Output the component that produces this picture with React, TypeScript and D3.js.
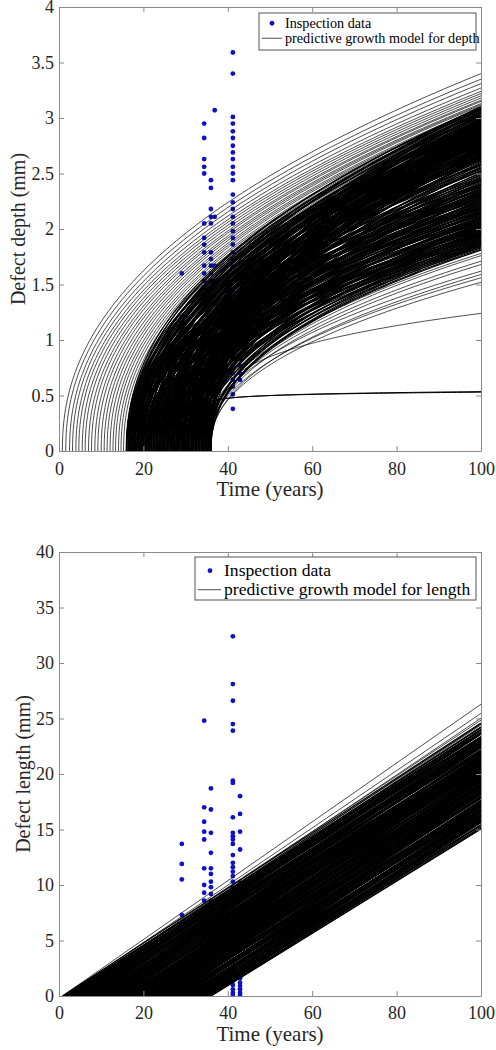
import React, { useEffect, useRef } from 'react';
import * as d3 from 'd3';

// shared axis ticks
const yearTicks = [0, 20, 40, 60, 80, 100];
const depthTicks = [0, 0.5, 1, 1.5, 2, 2.5, 3, 3.5, 4];
const lengthTicks = [0, 5, 10, 15, 20, 25, 30, 35, 40];

// inspection data, one column of readings per inspection year
const depthYears = [29.1, 34.4, 36.0, 36.9, 41.2, 42.9];
const depthReadings = [
    [1.60, 1.21, 1.15, 1.10],
    [2.95, 2.82, 2.63, 2.56, 2.50, 2.05, 1.92, 1.86, 1.79, 1.67, 1.60, 1.53, 1.47, 1.40, 1.33],
    [2.44, 2.37, 2.18, 2.11, 2.05, 1.79, 1.73, 1.67, 1.60, 1.53, 1.47, 1.40],
    [3.07, 2.11, 1.67, 1.53],
    [3.59, 3.40, 3.01, 2.95, 2.88, 2.82, 2.75, 2.69, 2.63, 2.56, 2.50, 2.44, 2.31, 2.24, 2.18, 2.11, 2.05, 1.98, 1.92, 1.86, 1.79, 1.73, 1.66, 1.60, 1.52, 1.45, 0.83, 0.77, 0.70, 0.64, 0.58, 0.51, 0.38],
    [0.83, 0.77, 0.70, 0.64],
];
const lengthYears = [29.1, 34.4, 36.0, 41.2, 42.9];
const lengthReadings = [
    [13.7, 11.9, 10.5, 7.3, 6.6, 5.9, 5.2, 4.5],
    [24.8, 17.0, 15.7, 14.8, 14.1, 11.5, 10.0, 9.3, 8.6, 7.9, 7.1, 6.2, 5.3, 4.4, 3.5, 2.6, 1.7, 0.8, 0.2],
    [18.7, 16.8, 14.7, 12.9, 11.5, 11.0, 10.3, 9.8, 9.2, 8.6, 7.9, 7.1, 6.3, 5.4, 4.5, 3.6, 2.7, 1.8, 0.9, 0.2],
    [32.4, 28.1, 26.6, 24.5, 23.9, 19.4, 19.2, 16.1, 14.7, 14.4, 14.1, 13.7, 12.7, 12.0, 11.6, 11.2, 10.8, 10.3, 9.8, 9.2, 8.6, 8.0, 7.3, 6.6, 5.9, 5.2, 4.5, 3.8, 3.1, 2.5, 1.9, 1.4, 1.0, 0.6, 0.3, 0.1],
    [18.0, 16.4, 14.8, 13.2, 10.2, 2.0, 1.6, 1.2, 0.9, 0.6, 0.3, 0.1],
];

// depth model: d(t) = end * ((t - onset) / (100 - onset)) ^ exponent
const depthExponent = 0.45;
// sparse curves (outer fan and the lower stragglers)
const depthOnset = [0.8, 1.6, 2.5, 3.2, 4.0, 4.7, 5.5, 6.2, 7.0, 7.7, 8.5, 9.2, 10.0, 10.7, 11.4, 12.1, 12.8, 13.4, 14.1, 14.7, 15.3, 15.9, 16.5, 17.0, 17.5, 18.0, 18.5, 19.0, 19.4, 19.8,
    34.2, 35.0, 34.6, 35.4, 33.8, 35.8, 34.9, 35.5];
const depthEnd = [3.40, 3.35, 3.31, 3.27, 3.24, 3.22, 3.20, 3.18, 3.16, 3.15, 3.13, 3.12, 3.11, 3.09, 3.08, 3.07, 3.05, 3.04, 3.03, 3.02, 3.00, 2.99, 2.98, 2.97, 2.96, 2.95, 2.94, 2.93, 2.92, 2.91,
    1.78, 1.76, 1.71, 1.68, 1.62, 1.59, 1.56, 1.52];
// dense band: five curves per onset year
const depthOnsetDense = [16.0, 16.4, 16.8, 17.2, 17.6, 18.0, 18.4, 18.8, 19.2, 19.6,
    20.0, 20.4, 20.8, 21.2, 21.5, 21.9, 22.3, 22.6, 23.0, 23.3, 23.7, 24.0, 24.4, 24.7, 25.0, 25.4, 25.7, 26.0, 26.4, 26.7, 27.0, 27.3, 27.7, 28.0, 28.3, 28.6, 29.0, 29.3, 29.6, 29.9, 30.3, 30.6, 30.9, 31.3, 31.6, 31.9, 32.3, 32.6, 33.0, 33.3, 33.7, 34.1, 34.5, 34.9, 35.3, 35.7, 36.0];
const depthEndHigh = [3.09, 3.05, 3.10, 3.02, 3.07, 2.98, 3.04, 3.08, 2.96, 3.01,
    3.08, 2.95, 3.02, 2.88, 3.10, 2.92, 2.99, 2.84, 3.05, 2.90, 2.97, 2.80, 3.03, 2.86, 2.94, 3.07, 2.82, 2.98, 2.89, 3.01, 2.78, 2.93, 3.06, 2.85, 2.96, 2.81, 3.00, 2.91, 2.76, 2.95, 2.87, 3.04, 2.79, 2.92, 2.83, 2.97, 2.74, 2.88, 2.99, 2.80, 2.93, 2.77, 2.86, 2.95, 2.72, 2.84, 2.90];
const depthEndUpper = [2.92, 2.86, 2.96, 2.80, 2.90, 2.75, 2.83, 2.94, 2.71, 2.88,
    2.78, 2.85, 2.69, 2.91, 2.74, 2.82, 2.66, 2.87, 2.77, 2.93, 2.70, 2.84, 2.63, 2.79, 2.89, 2.73, 2.81, 2.67, 2.90, 2.76, 2.84, 2.64, 2.78, 2.86, 2.71, 2.80, 2.68, 2.92, 2.74, 2.83, 2.65, 2.77, 2.88, 2.72, 2.81, 2.62, 2.79, 2.70, 2.85, 2.66, 2.75, 2.82, 2.68, 2.73, 2.64, 2.78, 2.70];
const depthEndMid = [2.78, 2.65, 2.84, 2.58, 2.72, 2.90, 2.62, 2.76, 2.69, 2.86,
    2.62, 2.48, 2.70, 2.35, 2.55, 2.66, 2.41, 2.58, 2.30, 2.64, 2.45, 2.52, 2.38, 2.68, 2.43, 2.57, 2.33, 2.61, 2.47, 2.54, 2.36, 2.65, 2.40, 2.50, 2.28, 2.59, 2.44, 2.67, 2.32, 2.53, 2.39, 2.60, 2.46, 2.26, 2.56, 2.42, 2.63, 2.34, 2.49, 2.37, 2.58, 2.29, 2.51, 2.44, 2.31, 2.55, 2.40];
const depthEndLower = [2.30, 2.18, 2.36, 2.12, 2.26, 2.40, 2.15, 2.32, 2.22, 2.38,
    2.05, 2.27, 1.96, 2.21, 2.09, 2.33, 1.99, 2.17, 2.29, 2.03, 2.24, 1.93, 2.14, 2.31, 2.00, 2.19, 2.07, 2.35, 1.97, 2.23, 2.11, 1.95, 2.28, 2.06, 2.16, 1.91, 2.25, 2.02, 2.20, 1.98, 2.13, 2.34, 1.94, 2.08, 2.22, 1.89, 2.17, 2.04, 2.26, 1.92, 2.10, 1.88, 2.01, 2.15, 1.87, 1.97, 1.84];
const depthEndLow = [2.40, 2.28, 2.52, 2.20, 2.35, 2.46, 2.24, 2.38, 2.31, 2.44,
    2.15, 1.98, 2.22, 1.90, 2.08, 2.18, 1.94, 2.12, 1.87, 2.20, 2.02, 1.96, 2.10, 1.89, 2.16, 2.04, 1.92, 2.24, 1.99, 2.06, 1.86, 2.13, 2.01, 1.95, 2.19, 1.88, 2.07, 1.97, 2.11, 1.85, 2.03, 1.93, 2.14, 1.84, 2.00, 1.91, 2.09, 1.86, 1.96, 2.05, 1.83, 1.94, 2.02, 1.85, 1.90, 1.82, 1.81];
// odd curves with their own exponent
const depthOddOnset = [35.9, 35.7, 35.6];
const depthOddEnd = [1.24, 0.53, 0.535];
const depthOddExp = [0.25, 0.04, 0.045];

// length model: straight lines L(t) = rate * (t - onset), two per onset year
const lengthOnset = [0.8, 1.0, 1.3, 1.7, 1.9, 2.2, 2.6, 2.8, 3.1, 3.5,
    3.7, 4.0, 4.4, 4.6, 4.9, 5.3, 5.5, 5.8, 6.2, 6.4,
    6.7, 7.1, 7.3, 7.6, 8.0, 8.2, 8.5, 8.9, 9.1, 9.4,
    9.8, 10.0, 10.3, 10.7, 10.9, 11.2, 11.6, 11.8, 12.1, 12.5,
    12.7, 13.0, 13.4, 13.6, 13.9, 14.3, 14.5, 14.8, 15.2, 15.4,
    15.7, 16.1, 16.3, 16.6, 17.0, 17.2, 17.5, 17.9, 18.1, 18.4,
    18.8, 19.0, 19.3, 19.7, 19.9, 20.2, 20.6, 20.8, 21.1, 21.5,
    21.7, 22.0, 22.4, 22.6, 22.9, 23.3, 23.5, 23.8, 24.2, 24.4,
    24.7, 25.1, 25.3, 25.6, 26.0, 26.2, 26.5, 26.9, 27.1, 27.4,
    27.8, 28.0, 28.3, 28.7, 28.9, 29.2, 29.6, 29.8, 30.1, 30.5,
    30.7, 31.0, 31.4, 31.6, 31.9, 32.3, 32.5, 32.8, 33.2, 33.4,
    33.7, 34.1, 34.3, 34.6, 35.0, 35.2, 35.5, 35.8, 36.0];
const lengthRate = [0.265, 0.251, 0.258, 0.244, 0.247, 0.256, 0.240, 0.249, 0.252, 0.238,
    0.246, 0.242, 0.250, 0.237, 0.248, 0.243, 0.251, 0.239, 0.245, 0.241,
    0.249, 0.236, 0.247, 0.243, 0.250, 0.238, 0.245, 0.241, 0.248, 0.237,
    0.244, 0.250, 0.239, 0.246, 0.242, 0.249, 0.236, 0.247, 0.243, 0.251,
    0.238, 0.245, 0.240, 0.248, 0.237, 0.246, 0.242, 0.250, 0.239, 0.244,
    0.241, 0.249, 0.236, 0.247, 0.243, 0.250, 0.238, 0.245, 0.240, 0.248,
    0.237, 0.246, 0.242, 0.249, 0.239, 0.244, 0.241, 0.250, 0.236, 0.247,
    0.243, 0.248, 0.238, 0.245, 0.240, 0.249, 0.237, 0.246, 0.242, 0.250,
    0.239, 0.244, 0.241, 0.248, 0.236, 0.247, 0.243, 0.249, 0.238, 0.245,
    0.240, 0.250, 0.237, 0.246, 0.242, 0.248, 0.239, 0.244, 0.241, 0.249,
    0.236, 0.247, 0.243, 0.250, 0.238, 0.245, 0.240, 0.248, 0.237, 0.246,
    0.242, 0.249, 0.239, 0.244, 0.241, 0.247, 0.236, 0.243, 0.235];
const lengthRate2 = [0.248, 0.240, 0.245, 0.237, 0.250, 0.242, 0.246, 0.239, 0.244, 0.249,
    0.236, 0.243, 0.247, 0.240, 0.245, 0.238, 0.250, 0.241, 0.246, 0.237,
    0.244, 0.249, 0.239, 0.242, 0.247, 0.236, 0.245, 0.250, 0.238, 0.243,
    0.248, 0.240, 0.246, 0.237, 0.244, 0.241, 0.249, 0.239, 0.245, 0.236,
    0.247, 0.242, 0.250, 0.238, 0.243, 0.248, 0.240, 0.246, 0.237, 0.244,
    0.249, 0.239, 0.245, 0.241, 0.236, 0.247, 0.243, 0.250, 0.238, 0.242,
    0.248, 0.240, 0.246, 0.237, 0.244, 0.249, 0.239, 0.245, 0.241, 0.236,
    0.247, 0.242, 0.250, 0.238, 0.243, 0.248, 0.240, 0.246, 0.237, 0.244,
    0.249, 0.239, 0.245, 0.241, 0.236, 0.247, 0.243, 0.250, 0.238, 0.242,
    0.248, 0.240, 0.246, 0.237, 0.244, 0.249, 0.239, 0.245, 0.241, 0.236,
    0.247, 0.242, 0.250, 0.238, 0.243, 0.248, 0.240, 0.246, 0.237, 0.244,
    0.239, 0.245, 0.241, 0.236, 0.247, 0.243, 0.238, 0.240, 0.236];

const serif = '"Liberation Serif", "Times New Roman", serif';
const dotColor = '#1010cc';
const inkColor = '#262626';

const depthCurve = (onset: number, end: number, exp: number) => {
    const n = 90;
    return d3.range(n + 1).map(i => {
        const u = i / n;
        const t = onset + (100 - onset) * u * u;
        return [t, end * Math.pow((t - onset) / (100 - onset), exp)];
    });
};

const setFont = (sel: any, size: number) =>
    sel.attr('font-family', serif).attr('font-size', size).style('font-family', serif).style('font-size', `${size}px`);

const drawPanel = (svg: any, opt: any) => {
    const x = d3.scaleLinear().domain([0, 100]).range([59, 481]);
    const y = d3.scaleLinear().domain([0, opt.yMax]).range([opt.bottom, opt.top]);
    const g = svg.append('g');

    const clipId = 'clip' + opt.key;
    svg.append('clipPath').attr('id', clipId).append('rect')
        .attr('x', 59).attr('y', opt.top).attr('width', 422).attr('height', opt.bottom - opt.top);

    // inspection dots go under the model curves
    g.append('g').selectAll('circle')
        .data(opt.points)
        .join('circle')
        .attr('cx', (d: number[]) => x(d[0]))
        .attr('cy', (d: number[]) => y(d[1]))
        .attr('r', 2.4)
        .attr('fill', dotColor);

    const line = d3.line<number[]>().x(d => x(d[0])).y(d => y(d[1]));
    g.append('g')
        .attr('clip-path', `url(#${clipId})`)
        .selectAll('path')
        .data(opt.curves)
        .join('path')
        .attr('d', (d: any) => line(d.pts))
        .attr('fill', 'none')
        .attr('stroke', '#000')
        .attr('stroke-width', (d: any) => d.w);

    // box with inward ticks on all four sides
    const styleAxis = (a: any) => {
        a.attr('font-family', serif).attr('font-size', 18);
        a.select('.domain').attr('stroke', '#8a8a8a').attr('fill', 'none');
        a.selectAll('.tick line').attr('stroke', '#8a8a8a');
        a.selectAll('.tick text').attr('fill', inkColor).call(setFont, 18);
    };
    const fmt = (d: any) => `${d}`;
    svg.append('g').attr('transform', `translate(0,${opt.bottom})`)
        .call(d3.axisBottom(x).tickValues(yearTicks).tickFormat(fmt).tickSizeInner(-5).tickSizeOuter(0).tickPadding(opt.xPad))
        .call(styleAxis);
    svg.append('g').attr('transform', `translate(0,${opt.top})`)
        .call(d3.axisTop(x).tickValues(yearTicks).tickFormat(() => '').tickSizeInner(-5).tickSizeOuter(0))
        .call(styleAxis);
    svg.append('g').attr('transform', 'translate(59,0)')
        .call(d3.axisLeft(y).tickValues(opt.yTicks).tickFormat(fmt).tickSizeInner(-5).tickSizeOuter(0).tickPadding(5))
        .call(styleAxis);
    svg.append('g').attr('transform', 'translate(481,0)')
        .call(d3.axisRight(y).tickValues(opt.yTicks).tickFormat(() => '').tickSizeInner(-5).tickSizeOuter(0))
        .call(styleAxis);

    // axis titles
    svg.append('text')
        .attr('x', 270).attr('y', opt.bottom + 45)
        .attr('text-anchor', 'middle')
        .attr('fill', inkColor)
        .call(setFont, 21)
        .text('Time (years)');
    svg.append('text')
        .attr('transform', `translate(${opt.yLabelX},${(opt.top + opt.bottom) / 2}) rotate(-90)`)
        .attr('text-anchor', 'middle')
        .attr('fill', inkColor)
        .call(setFont, 20)
        .text(opt.yLabel);

    // legend
    const L = opt.legend;
    const lg = svg.append('g');
    lg.append('rect')
        .attr('x', L.x).attr('y', L.y).attr('width', L.w).attr('height', L.h)
        .attr('fill', '#fff').attr('stroke', '#555').attr('stroke-width', 1);
    lg.append('circle').attr('cx', L.x + L.dotDx).attr('cy', L.y + L.row1 - L.fs * 0.3).attr('r', 2.4).attr('fill', dotColor);
    lg.append('line')
        .attr('x1', L.x + 3).attr('x2', L.x + L.textDx - 3)
        .attr('y1', L.y + L.row2 - L.fs * 0.3).attr('y2', L.y + L.row2 - L.fs * 0.3)
        .attr('stroke', '#000').attr('stroke-width', 0.7);
    lg.selectAll('text.item')
        .data([['Inspection data', L.row1], [L.label, L.row2]])
        .join('text')
        .attr('x', L.x + L.textDx)
        .attr('y', (d: any) => L.y + d[1])
        .attr('fill', '#000')
        .call(setFont, L.fs)
        .text((d: any) => d[0]);
};

const App = () => {
    const ref = useRef<SVGSVGElement>(null);

    useEffect(() => {
        const svg = d3.select(ref.current);
        svg.selectAll('*').remove();

        const depthPoints = depthYears.flatMap((t, i) => depthReadings[i].map(v => [t, v]));
        const depthCurves: any[] = [];
        depthOnset.forEach((t0, i) => depthCurves.push({ pts: depthCurve(t0, depthEnd[i], depthExponent), w: 0.7 }));
        depthOnsetDense.forEach((t0, i) => {
            [depthEndHigh[i], depthEndUpper[i], depthEndMid[i], depthEndLower[i], depthEndLow[i]].forEach(e =>
                depthCurves.push({ pts: depthCurve(t0, e, depthExponent), w: 1.15 }));
        });
        depthOddOnset.forEach((t0, i) => depthCurves.push({ pts: depthCurve(t0, depthOddEnd[i], depthOddExp[i]), w: i === 0 ? 0.7 : 1 }));

        drawPanel(svg, {
            key: 'depth', top: 7, bottom: 451, yMax: 4, yTicks: depthTicks, xPad: 11, yLabelX: 25,
            yLabel: 'Defect depth (mm)', points: depthPoints, curves: depthCurves,
            legend: { x: 259, y: 13, w: 217, h: 37, fs: 14.2, dotDx: 13, textDx: 26, row1: 14.5, row2: 29.5, label: 'predictive growth model for depth' },
        });

        const lengthPoints = lengthYears.flatMap((t, i) => lengthReadings[i].map(v => [t, v]));
        const lengthCurves: any[] = [];
        lengthOnset.forEach((t0, i) => {
            [lengthRate[i], lengthRate2[i]].forEach(r =>
                lengthCurves.push({ pts: [[t0, 0], [100, r * (100 - t0)]], w: r > 0.25 ? 0.7 : 1.15 }));
        });

        drawPanel(svg, {
            key: 'length', top: 552, bottom: 996, yMax: 40, yTicks: lengthTicks, xPad: 10, yLabelX: 30,
            yLabel: 'Defect length (mm)', points: lengthPoints, curves: lengthCurves,
            legend: { x: 195, y: 557, w: 281, h: 43, fs: 17.6, dotDx: 15, textDx: 29, row1: 19, row2: 38, label: 'predictive growth model for length' },
        });
    }, []);

    return (
        <svg ref={ref} width={496} height={1050}
            style={{ position: 'absolute', left: 0, top: 0, background: '#fff' }} />
    );
};

export default App;
